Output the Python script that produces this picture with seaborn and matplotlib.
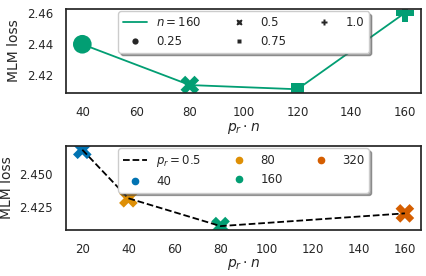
import numpy as np
import pandas as pd
import matplotlib
matplotlib.use("Agg")
import matplotlib.pyplot as plt
from matplotlib.lines import Line2D
import seaborn as sb

# top: n = 160, varying p_r
top_pr = [0.25, 0.5, 0.75, 1.0]
top_x = [40, 80, 120, 160]
top_loss = [2.440, 2.4137, 2.411, 2.4602]
top_markers = ["o", "X", (4, 0, 45), "P"]

# bottom: p_r = 0.5, varying n
bot_n = [40, 80, 160, 320]
bot_x = [20, 40, 80, 160]
bot_loss = [2.4688, 2.4318, 2.4106, 2.4203]

sb.set_theme(style="white", context="notebook",
             rc={"axes.labelsize": 10, "xtick.labelsize": 8.5,
                 "ytick.labelsize": 8.5, "legend.fontsize": 8.5})
pal = sb.color_palette("colorblind")

df_top = pd.DataFrame({"x": top_x, "loss": top_loss, "p_r": [str(p) for p in top_pr]})
df_bot = pd.DataFrame({"x": bot_x, "loss": bot_loss, "n": [str(n) for n in bot_n]})

fig, axes = plt.subplots(2, 1, figsize=(4.27, 2.76), dpi=100)
fig.subplots_adjust(left=0.155, right=0.986, top=0.967, bottom=0.167, hspace=0.63)

# %%
ax = axes[0]
sb.lineplot(data=df_top, x="x", y="loss", color=pal[2], lw=1.3, ax=ax)
sb.scatterplot(data=df_top, x="x", y="loss", style="p_r", markers=top_markers,
               color=pal[2], s=180, edgecolor="none", ax=ax, legend=False)
h = [Line2D([], [], color=pal[2], lw=1.3)]
l = ["$n = 160$"]
for m, p in zip(top_markers, top_pr):
    h.append(Line2D([], [], marker=m, linestyle="", color="0.15", markersize=4.5,
                    markeredgecolor="none"))
    l.append(str(p))
ax.legend(h, l, ncol=3, loc="upper center", shadow=True,
          handlelength=2, columnspacing=2.2, borderaxespad=0.2)
ax.set_yticks([2.42, 2.44, 2.46])
ax.set_xlabel(r"$p_r \cdot n$", labelpad=1)
ax.set_ylabel("MLM loss")

# %%
ax = axes[1]
sb.lineplot(data=df_bot, x="x", y="loss", color="black", linestyle="--", lw=1.3, ax=ax)
sb.scatterplot(data=df_bot, x="x", y="loss", hue="n", palette=pal[:4], marker="X",
               s=180, edgecolor="none", ax=ax, legend=False)
h = [Line2D([], [], color="black", lw=1.3, linestyle="--")]
l = ["$p_r = 0.5$"]
for c, n in zip(pal[:4], bot_n):
    h.append(Line2D([], [], marker="o", linestyle="", color=c, markersize=4.5))
    l.append(str(n))
ax.legend(h, l, ncol=3, loc="upper center", shadow=True,
          handlelength=2, columnspacing=2.2, borderaxespad=0.2)
ax.set_xticks([20, 40, 60, 80, 100, 120, 140, 160])
ax.set_yticks([2.425, 2.45])
ax.set_xlabel(r"$p_r \cdot n$", labelpad=1)
ax.set_ylabel("MLM loss")

plt.savefig("out.png", dpi=100)
